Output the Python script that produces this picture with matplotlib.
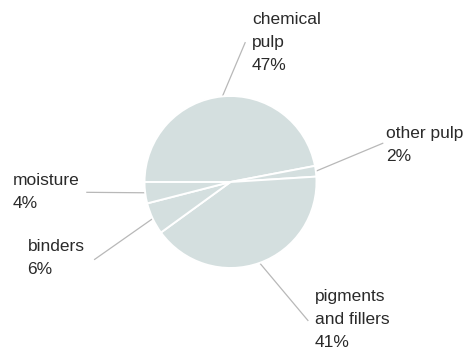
import matplotlib.pyplot as plt
import numpy as np

# paper composition
labels = ['chemical\npulp', 'other pulp', 'pigments\nand fillers', 'binders', 'moisture']
shares = [47, 2, 41, 6, 4]

# label text anchors and leader line ends, in pie-radius units
text_pos = [(0.25, 1.62), (1.81, 0.43), (0.98, -1.60), (-2.36, -0.88), (-2.53, -0.12)]
text_ha = ['left', 'left', 'left', 'left', 'left']
line_end = [(0.17, 1.62), (1.77, 0.45), (0.90, -1.61), (-1.58, -0.90), (-1.67, -0.12)]

plt.rcParams['font.family'] = ['Liberation Sans', 'DejaVu Sans']

fig = plt.figure(figsize=(4.7, 3.53), dpi=100)
ax = fig.add_axes([0, 0, 1, 1])

wedges, _ = ax.pie(shares, startangle=180, counterclock=False, radius=1.0,
                   colors=['#d4dfdf'] * len(shares),
                   wedgeprops=dict(edgecolor='white', linewidth=1.4))

for w, lab, s, tp, ha, le in zip(wedges, labels, shares, text_pos, text_ha, line_end):
    mid = np.deg2rad((w.theta1 + w.theta2) / 2)
    x0, y0 = np.cos(mid), np.sin(mid)
    ax.plot([x0, le[0]], [y0, le[1]], color='#b8b8b8', lw=0.9, zorder=0)
    ax.text(tp[0], tp[1], f'{lab}\n{s}%', ha=ha, va='center', fontsize=12.5,
            color='#2a2a2a', linespacing=1.68)

ax.set_xlim(-230.5 / 86, (470 - 230.5) / 86)
ax.set_ylim(-171 / 86, 182 / 86)
ax.set_aspect('equal')
ax.axis('off')

fig.savefig('out.png', dpi=100)
